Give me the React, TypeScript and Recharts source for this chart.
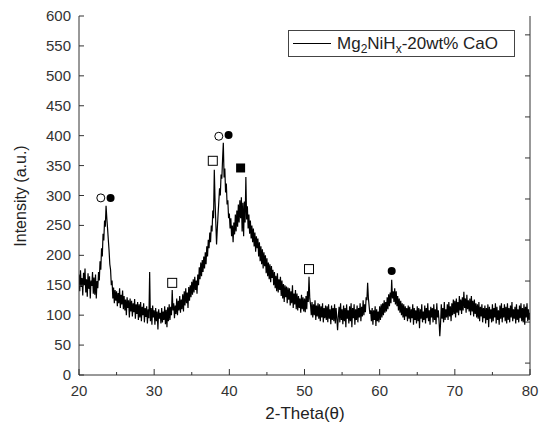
// XRD pattern of Mg2NiHx-20wt% CaO, redrawn with Recharts.

import { ComposedChart, Line, Scatter, XAxis, YAxis } from 'recharts';

const FONT = '"Liberation Sans", Arial, sans-serif';
const AXIS_COLOR = '#333';

// scan grid: 20..80 deg, 0.1 deg step
const THETA_START = 20;
const THETA_STEP = 0.1;

// intensity, one row per degree (x.0 .. x.9)
const INTENSITY = [
  168, 140, 175, 147, 162, 133, 171, 150, 178, 138, // 20
  160, 131, 170, 144, 165, 128, 158, 149, 172, 136, // 21
  163, 134, 168, 128, 157, 145, 172, 158, 190, 176, // 22
  212, 198, 236, 225, 258, 248, 283, 262, 245, 226, // 23
  208, 185, 176, 150, 158, 128, 146, 120, 142, 124, // 24
  140, 115, 137, 120, 145, 112, 134, 118, 141, 110, // 25
  132, 108, 126, 100, 130, 112, 125, 96, 128, 106, // 26
  124, 98, 120, 105, 127, 94, 118, 102, 122, 92, // 27
  118, 96, 122, 90, 114, 100, 120, 88, 112, 97, // 28
  115, 86, 110, 95, 172, 90, 112, 84, 116, 96, // 29
  108, 84, 112, 90, 106, 76, 110, 94, 104, 86, // 30
  112, 88, 106, 92, 115, 85, 109, 80, 113, 90, // 31
  118, 92, 114, 100, 142, 108, 120, 95, 116, 102, // 32
  128, 100, 124, 108, 132, 104, 126, 110, 135, 106, // 33
  140, 116, 145, 120, 138, 112, 147, 124, 150, 130, // 34
  156, 134, 160, 138, 164, 142, 158, 136, 168, 150, // 35
  180, 160, 188, 165, 192, 172, 198, 178, 205, 185, // 36
  215, 198, 226, 212, 238, 222, 250, 240, 275, 262, // 37
  343, 290, 255, 218, 245, 268, 290, 312, 300, 335, // 38
  328, 360, 388, 330, 345, 305, 320, 285, 292, 262, // 39
  270, 245, 262, 232, 250, 222, 255, 235, 268, 240, // 40
  275, 248, 285, 255, 292, 262, 297, 240, 288, 232, // 41
  290, 255, 331, 260, 282, 245, 268, 236, 258, 228, // 42
  250, 222, 245, 215, 238, 206, 232, 212, 228, 198, // 43
  222, 190, 215, 185, 210, 178, 205, 182, 200, 170, // 44
  195, 165, 188, 160, 185, 155, 182, 162, 176, 150, // 45
  172, 145, 166, 140, 170, 138, 160, 142, 164, 132, // 46
  158, 128, 152, 122, 150, 130, 148, 120, 146, 126, // 47
  145, 116, 140, 120, 150, 112, 136, 118, 142, 110, // 48
  136, 108, 132, 112, 128, 104, 134, 110, 130, 106, // 49
  128, 105, 132, 110, 140, 122, 164, 128, 118, 100, // 50
  122, 96, 118, 100, 125, 92, 116, 98, 120, 94, // 51
  118, 90, 115, 96, 120, 88, 112, 95, 116, 92, // 52
  115, 88, 118, 94, 110, 85, 116, 92, 112, 90, // 53
  118, 86, 112, 95, 75, 98, 114, 88, 120, 92, // 54
  110, 85, 116, 90, 112, 80, 118, 94, 108, 86, // 55
  115, 90, 120, 80, 112, 95, 118, 84, 110, 92, // 56
  116, 88, 112, 96, 120, 90, 114, 98, 125, 100, // 57
  118, 105, 130, 125, 154, 128, 115, 102, 108, 90, // 58
  112, 84, 108, 92, 115, 82, 110, 90, 106, 88, // 59
  115, 92, 118, 96, 120, 100, 125, 104, 122, 106, // 60
  130, 110, 135, 115, 138, 120, 159, 128, 140, 122, // 61
  145, 118, 140, 115, 132, 108, 128, 104, 124, 100, // 62
  120, 96, 118, 92, 115, 98, 112, 90, 116, 94, // 63
  114, 88, 110, 95, 118, 84, 112, 92, 108, 86, // 64
  115, 90, 112, 78, 110, 94, 118, 88, 106, 92, // 65
  116, 86, 112, 95, 120, 90, 108, 84, 114, 96, // 66
  112, 88, 118, 92, 110, 85, 120, 96, 108, 90, // 67
  65, 86, 118, 94, 112, 88, 122, 92, 110, 96, // 68
  118, 92, 122, 98, 115, 90, 120, 100, 126, 102, // 69
  124, 96, 128, 104, 122, 100, 132, 108, 126, 102, // 70
  130, 108, 139, 112, 128, 104, 134, 110, 125, 106, // 71
  128, 100, 132, 106, 124, 98, 126, 102, 120, 96, // 72
  118, 94, 122, 90, 114, 98, 118, 88, 112, 95, // 73
  116, 86, 112, 92, 118, 80, 114, 94, 110, 88, // 74
  118, 90, 112, 96, 120, 86, 114, 92, 108, 84, // 75
  116, 94, 120, 88, 112, 96, 118, 90, 114, 86, // 76
  120, 92, 112, 88, 116, 96, 122, 90, 110, 94, // 77
  114, 86, 118, 92, 110, 88, 116, 95, 120, 90, // 78
  112, 88, 118, 84, 114, 96, 120, 90, 110, 92, // 79
  104, // 80
];

// phase markers above the peaks
const MARK_THETA = [22.9, 24.2, 32.4, 37.8, 38.6, 39.9, 41.5, 50.6, 61.6];
const MARK_INT = [296, 296, 154, 358, 399, 401, 346, 177, 174];
const MARK_KIND = ['openCircle', 'dot', 'openSquare', 'openSquare', 'openCircle', 'dot', 'square', 'openSquare', 'dot'];

const X_TICKS = [20, 25, 30, 35, 40, 45, 50, 55, 60, 65, 70, 75, 80];
const Y_TICKS = [0, 50, 100, 150, 200, 250, 300, 350, 400, 450, 500, 550, 600];
const RIGHT_TICKS = [0, 100, 200, 300, 400, 500, 600, 700, 800];

const rows = INTENSITY.map((v, i) => ({ t: +(THETA_START + i * THETA_STEP).toFixed(1), v }));
const marks = MARK_THETA.map((t, i) => ({ t, v: MARK_INT[i], kind: MARK_KIND[i] }));

function XTick({ x, y, payload }: any) {
  const major = payload.value % 10 === 0;
  return (
    <g>
      <line x1={x} y1={y} x2={x} y2={y - (major ? 6 : 3)} stroke={AXIS_COLOR} />
      {major && (
        <text x={x} y={y + 21} textAnchor="middle" fontSize={15} fontFamily={FONT} fill={AXIS_COLOR}>
          {payload.value}
        </text>
      )}
    </g>
  );
}

function YTick({ x, y, payload }: any) {
  return (
    <g>
      <line x1={x} y1={y} x2={x + 5} y2={y} stroke={AXIS_COLOR} />
      <text x={x - 8} y={y + 5} textAnchor="end" fontSize={15} fontFamily={FONT} fill={AXIS_COLOR}>
        {payload.value}
      </text>
    </g>
  );
}

function RightTick({ x, y }: any) {
  return <line x1={x} y1={y} x2={x - 5} y2={y} stroke={AXIS_COLOR} />;
}

function Marker({ cx, cy, payload }: any) {
  const k = payload.kind;
  if (k === 'openCircle') return <circle cx={cx} cy={cy} r={4} fill="#fff" stroke="#000" strokeWidth={1} />;
  if (k === 'dot') return <circle cx={cx} cy={cy} r={4} fill="#000" />;
  if (k === 'openSquare') return <rect x={cx - 4.5} y={cy - 4.5} width={9} height={9} fill="#fff" stroke="#000" />;
  return <rect x={cx - 4.5} y={cy - 4.5} width={9} height={9} fill="#000" />;
}

export default function App() {
  return (
    <div style={{ position: 'absolute', left: 0, top: 0, width: 545, height: 428, background: '#fff', fontFamily: FONT }}>
      <ComposedChart width={545} height={428} data={rows} margin={{ top: 16, right: 0, bottom: 0, left: 0 }}>
        <XAxis
          dataKey="t"
          type="number"
          domain={[20, 80]}
          ticks={X_TICKS}
          interval={0}
          tickSize={0}
          tickMargin={0}
          tick={<XTick />}
          height={53}
          stroke={AXIS_COLOR}
          allowDataOverflow
          label={{
            content: () => (
              <text x={305} y={419} textAnchor="middle" fontSize={17} fontFamily={FONT} fill="#222">
                2-Theta(θ)
              </text>
            ),
          }}
        />
        <XAxis xAxisId="top" orientation="top" dataKey="t" type="number" domain={[20, 80]} tick={false} tickLine={false} height={0} stroke={AXIS_COLOR} />
        <YAxis
          type="number"
          domain={[0, 600]}
          ticks={Y_TICKS}
          interval={0}
          tickSize={0}
          tickMargin={0}
          tick={<YTick />}
          width={79}
          stroke={AXIS_COLOR}
          allowDataOverflow
          label={{
            content: () => (
              <text x={26} y={196} transform="rotate(-90 26 196)" textAnchor="middle" fontSize={16} fontFamily={FONT} fill="#222">
                Intensity (a.u.)
              </text>
            ),
          }}
        />
        <YAxis
          yAxisId="r"
          orientation="right"
          type="number"
          domain={[-29, 846]}
          ticks={RIGHT_TICKS}
          interval={0}
          tickSize={0}
          tickMargin={0}
          tick={<RightTick />}
          width={15}
          stroke={AXIS_COLOR}
          allowDataOverflow
        />
        <Line dataKey="v" type="linear" stroke="#000" strokeWidth={1.2} dot={false} isAnimationActive={false} />
        <Scatter data={marks} dataKey="v" shape={<Marker />} isAnimationActive={false} />
      </ComposedChart>
      <div
        style={{
          position: 'absolute',
          left: 288,
          top: 30,
          width: 227,
          height: 27,
          border: '1px solid #444',
          boxSizing: 'border-box',
          display: 'flex',
          alignItems: 'center',
          fontSize: 17,
          color: '#222',
          whiteSpace: 'nowrap',
        }}
      >
        <span style={{ display: 'inline-block', width: 38, borderTop: '1px solid #000', marginLeft: 4, marginRight: 6 }} />
        <span>
          Mg<sub style={{ fontSize: 12, lineHeight: 0 }}>2</sub>NiH<sub style={{ fontSize: 12, lineHeight: 0 }}>x</sub>-20wt% CaO
        </span>
      </div>
    </div>
  );
}
